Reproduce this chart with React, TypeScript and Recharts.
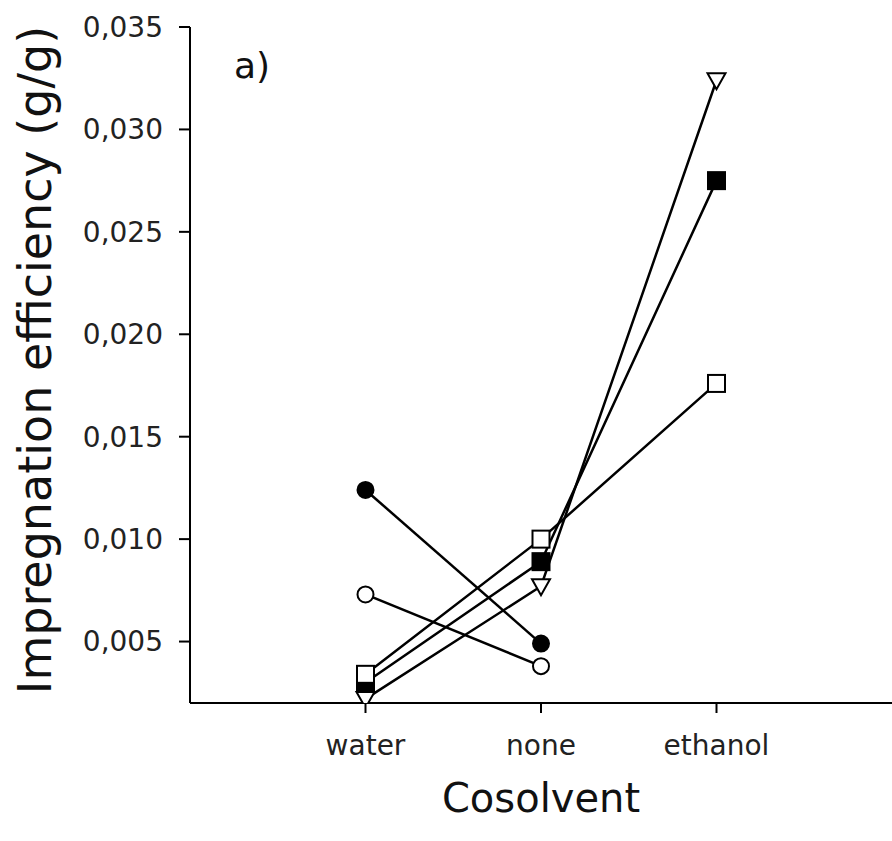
import React from 'react';
import { LineChart, Line, XAxis, YAxis, Label } from 'recharts';

const categories = ['water', 'none', 'ethanol'];
const filledCircle = [0.0124, 0.0049, null];
const openCircle = [0.0073, 0.0038, null];
const openTriangle = [0.0022, 0.0077, 0.0324];
const filledSquare = [0.003, 0.0089, 0.0275];
const openSquare = [0.0034, 0.01, 0.0176];
const yTicks = [0.005, 0.01, 0.015, 0.02, 0.025, 0.03, 0.035];

const data = categories.map((name, i) => ({
  pos: i + 1,
  name,
  filledCircle: filledCircle[i],
  openCircle: openCircle[i],
  openTriangle: openTriangle[i],
  filledSquare: filledSquare[i],
  openSquare: openSquare[i],
}));

const FONT = '"DejaVu Sans", Verdana, sans-serif';

const makeDot = (kind: string) => (props: any) => {
  const { cx, cy, value, index } = props;
  if (value == null || cx == null || cy == null) return <g key={`${kind}-${index}`} />;
  const k = `${kind}-${index}`;
  if (kind === 'filledCircle') return <circle key={k} cx={cx} cy={cy} r={8} fill="#000" stroke="#000" strokeWidth={2} />;
  if (kind === 'openCircle') return <circle key={k} cx={cx} cy={cy} r={8} fill="#fff" stroke="#000" strokeWidth={2} />;
  if (kind === 'filledSquare') return <rect key={k} x={cx - 8.5} y={cy - 8.5} width={17} height={17} fill="#000" stroke="#000" strokeWidth={2} />;
  if (kind === 'openSquare') return <rect key={k} x={cx - 8.5} y={cy - 8.5} width={17} height={17} fill="#fff" stroke="#000" strokeWidth={2} />;
  return (
    <polygon
      key={k}
      points={`${cx - 9},${cy - 7} ${cx + 9},${cy - 7} ${cx},${cy + 9}`}
      fill="#fff"
      stroke="#000"
      strokeWidth={2}
    />
  );
};

const series = ['filledCircle', 'openCircle', 'openTriangle', 'filledSquare', 'openSquare'];

export default function App() {
  return (
    <div style={{ position: 'absolute', left: 0, top: 0, width: 892, height: 841, background: '#fff', fontFamily: FONT }}>
      <LineChart width={892} height={841} data={data} margin={{ top: 27, right: 0, left: 0, bottom: 0 }}>
        <XAxis
          dataKey="pos"
          type="number"
          domain={[0, 4]}
          ticks={[1, 2, 3]}
          tickFormatter={(v: number) => categories[v - 1] ?? ''}
          height={138}
          tickSize={10}
          tickMargin={22}
          stroke="#000"
          strokeWidth={2}
          tick={{ fill: '#222', fontSize: 28, fontFamily: FONT }}
        >
          <Label value="Cosolvent" position="center" dy={26} style={{ fill: '#111', fontSize: 40, fontFamily: FONT }} />
        </XAxis>
        <YAxis
          type="number"
          domain={[0.002, 0.035]}
          allowDataOverflow
          ticks={yTicks}
          tickFormatter={(v: number) => v.toFixed(3).replace('.', ',')}
          width={190}
          tickSize={11}
          tickMargin={16}
          stroke="#000"
          strokeWidth={2}
          tick={{ fill: '#222', fontSize: 28, fontFamily: FONT }}
        >
          <Label
            value="Impregnation efficiency (g/g)"
            position="center"
            angle={-90}
            dx={-60}
            dy={-5}
            style={{ fill: '#111', fontSize: 46, fontFamily: FONT }}
          />
        </YAxis>
        {series.map((s) => (
          <Line
            key={s}
            dataKey={s}
            type="linear"
            stroke="#000"
            strokeWidth={2.5}
            dot={makeDot(s)}
            activeDot={false}
            isAnimationActive={false}
          />
        ))}
      </LineChart>
      <div style={{ position: 'absolute', left: 234, top: 48, fontSize: 36, fontFamily: FONT, color: '#111', lineHeight: 1 }}>a)</div>
    </div>
  );
}
